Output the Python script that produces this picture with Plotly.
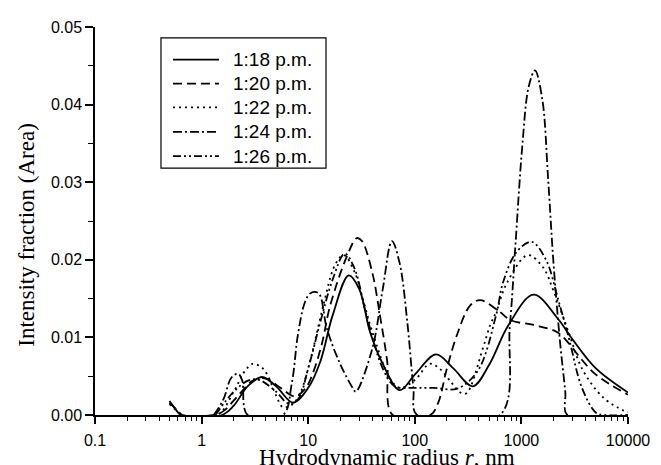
import plotly.graph_objects as go

# ---- data (radius in nm, intensity fraction) ----
r_1318 = [0.5, 0.56, 0.64, 1.55, 2.0, 2.7, 3.7, 5.0, 7.2, 10, 13, 17, 24, 30, 38, 50, 72,
          100, 158, 230, 350, 500, 750, 1300, 2200, 3000, 5000, 10000]
v_1318 = [0.0018, 0.0009, 0.0, 0.0, 0.0012, 0.0037, 0.0049, 0.0037, 0.0016, 0.0035, 0.0069,
          0.0129, 0.0180, 0.0163, 0.0107, 0.0066, 0.0032, 0.0052, 0.0078, 0.0060, 0.0037,
          0.0065, 0.0115, 0.0155, 0.0124, 0.0098, 0.0060, 0.0029]

r_1320 = [0.5, 0.6, 0.66, 1.3, 1.6, 2.2, 3.0, 4.0, 5.5, 7.5, 9.5, 11, 13.4, 16, 23, 28.6, 32,
          40, 47, 55, 62, 140, 165, 200, 250, 330, 410, 600, 800, 1300, 2150, 2800, 3500,
          5000, 10000]
v_1320 = [0.0016, 0.0005, 0.0, 0.0, 0.0005, 0.0025, 0.0044, 0.0047, 0.0035, 0.0024, 0.0035,
          0.0053, 0.0091, 0.0140, 0.0204, 0.0228, 0.0224, 0.0183, 0.0129, 0.0070, 0.0,
          0.0, 0.0015, 0.0060, 0.0104, 0.0141, 0.0148, 0.0135, 0.0122, 0.0116, 0.0107,
          0.0092, 0.0075, 0.0052, 0.0026]

r_1322 = [0.5, 0.6, 0.66, 1.4, 2.0, 2.5, 3.0, 3.6, 4.1, 5.0, 5.8, 7.0, 8.4, 10.8, 13.8, 17.8,
          21.5, 27.5, 32.6, 40, 58, 72, 100, 138, 170, 220, 267, 305, 435, 510, 580, 730,
          1150, 1600, 2000, 2800, 3700, 5800, 9000, 10000]
v_1322 = [0.0014, 0.0004, 0.0, 0.0, 0.0030, 0.0055, 0.0066, 0.0062, 0.0053, 0.0025, 0.0010,
          0.0013, 0.0028, 0.0078, 0.0140, 0.0193, 0.0206, 0.0183, 0.0149, 0.0107, 0.0048,
          0.0035, 0.0045, 0.0066, 0.0060, 0.0042, 0.0029, 0.0028, 0.0086, 0.0116, 0.0133,
          0.0170, 0.0206, 0.0190, 0.0160, 0.0105, 0.0060, 0.0023, 0.0006, 0.0004]

r_1324 = [1.3, 1.6, 1.9, 2.2, 2.4, 2.7, 5.8, 7.0, 8.0, 9.3, 10.5, 12.5, 15, 19.9, 26.4, 28,
          40, 50, 61, 72, 85, 97, 105, 630, 780, 880, 1020, 1170, 1340, 1570, 1780, 1990,
          2300, 2580, 2700, 10000]
v_1324 = [0.0, 0.0020, 0.0048, 0.0053, 0.0045, 0.0, 0.0, 0.0040, 0.0103, 0.0145, 0.0157,
          0.0157, 0.0111, 0.0066, 0.0034, 0.0030, 0.0086, 0.0162, 0.0224, 0.0196, 0.0120,
          0.0035, 0.0, 0.0, 0.0116, 0.0220, 0.0347, 0.0423, 0.0444, 0.0407, 0.0305, 0.0200,
          0.0095, 0.0030, 0.0, 0.0]

r_1326 = [1.35, 2.0, 2.8, 3.5, 5.0, 6.5, 8.0, 10, 13, 17, 22, 27, 35, 50, 65, 100, 150, 250,
          390, 580, 670, 900, 1250, 1700, 2200, 2800, 3700, 5000, 6000, 10000]
v_1326 = [0.0, 0.0030, 0.0045, 0.0045, 0.0030, 0.0015, 0.0020, 0.0060, 0.0120, 0.0175,
          0.0208, 0.0190, 0.0130, 0.0060, 0.0037, 0.0035, 0.0035, 0.0034, 0.0057, 0.0129,
          0.0170, 0.0210, 0.0223, 0.0200, 0.0150, 0.0098, 0.0035, 0.0003, 0.0, 0.0]

series_names = ["1:18 p.m.", "1:20 p.m.", "1:22 p.m.", "1:24 p.m.", "1:26 p.m."]
series_r = [r_1318, r_1320, r_1322, r_1324, r_1326]
series_v = [v_1318, v_1320, v_1322, v_1324, v_1326]
series_dash = ["solid", "9px,5px", "2px,4px", "9px,3px,2px,3px", "8px,3px,2px,3px,2px,3px"]

x_major = [0.1, 1, 10, 100, 1000, 10000]
x_major_labels = ["0.1", "1", "10", "100", "1000", "10000"]
x_minor = [m * 10 ** e for e in range(-1, 4) for m in range(2, 10)]

fig = go.Figure()
for name, r, v, dash in zip(series_names, series_r, series_v, series_dash):
    fig.add_trace(go.Scatter(
        x=r, y=v, name=name, mode="lines", showlegend=False,
        line=dict(color="black", width=1.8, dash=dash, shape="spline", smoothing=1.0),
    ))

axis_font = dict(family="Liberation Sans, Arial, sans-serif", size=16, color="black")
title_font = dict(family="Liberation Serif, Times New Roman, serif", size=23, color="black")
legend_font = dict(family="Liberation Sans, Arial, sans-serif", size=19, color="black")

# ---- legend box drawn in paper coordinates ----
shapes = [dict(type="rect", xref="paper", yref="paper",
               x0=0.1238, x1=0.4334, y0=0.6364, y1=0.9722,
               line=dict(color="black", width=1.2), fillcolor="white", layer="above")]
annotations = []
row_y = [0.9159, 0.8543, 0.7929, 0.7298, 0.6674]
for name, dash, yy in zip(series_names, series_dash, row_y):
    shapes.append(dict(type="line", xref="paper", yref="paper",
                       x0=0.1463, x1=0.2326, y0=yy, y1=yy, layer="above",
                       line=dict(color="black", width=1.8, dash=dash)))
    annotations.append(dict(text=name, xref="paper", yref="paper", x=0.2552, y=yy,
                            xanchor="left", yanchor="middle", showarrow=False,
                            font=legend_font))

annotations += [
    dict(text="Hydrodynamic radius <i>r</i>, nm", xref="paper", yref="paper",
         x=0.548, y=-0.1098, xanchor="center", yanchor="middle",
         showarrow=False, font=title_font),
    dict(text="Intensity fraction (Area)", xref="paper", yref="paper",
         x=-0.1276, y=0.4646, xanchor="center", yanchor="middle", textangle=-90,
         showarrow=False, font=title_font),
]

fig.update_layout(
    width=653, height=457,
    margin=dict(l=87, r=33, t=11, b=50),
    paper_bgcolor="white", plot_bgcolor="white",
    showlegend=False,
    xaxis=dict(
        type="log", range=[-1, 4],
        tickvals=x_major, ticktext=x_major_labels,
        ticks="outside", ticklen=7, tickwidth=1.5, tickcolor="black",
        ticklabelstandoff=3,
        showline=True, linecolor="black", linewidth=1.5,
        showgrid=False, zeroline=False, tickfont=axis_font,
        minor=dict(tickvals=x_minor, ticks="outside", ticklen=4, tickwidth=1.2,
                   tickcolor="black", showgrid=False),
    ),
    yaxis=dict(
        range=[0, 0.05], dtick=0.01, tick0=0, tickformat=".2f",
        ticks="outside", ticklen=8, tickwidth=1.5, tickcolor="black",
        showline=True, linecolor="black", linewidth=1.5,
        showgrid=False, zeroline=False, tickfont=axis_font,
        minor=dict(dtick=0.005, ticks="outside", ticklen=5, tickwidth=1.2,
                   tickcolor="black", showgrid=False),
    ),
    shapes=shapes,
    annotations=annotations,
)

fig.write_html("out.html")
